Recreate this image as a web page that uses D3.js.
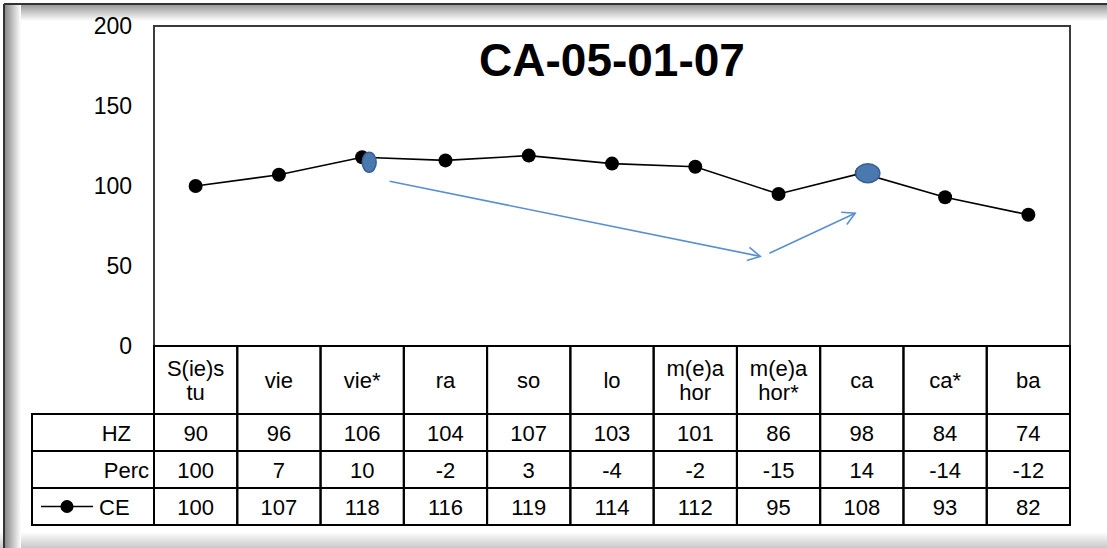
<!DOCTYPE html>
<html>
<head>
<meta charset="utf-8">
<script src="https://cdn.jsdelivr.net/npm/d3@7"></script>
<style>
  html, body { margin: 0; padding: 0; background: #fff; }
  svg { display: block; }
  text { font-family: "Liberation Sans", Arial, sans-serif; fill: #000; }
</style>
</head>
<body>
<script>
// ---- data ----
const categories = ["S(ie)s\ntu", "vie", "vie*", "ra", "so", "lo", "m(e)a\nhor", "m(e)a\nhor*", "ca", "ca*", "ba"];
const hzValues   = [90, 96, 106, 104, 107, 103, 101, 86, 98, 84, 74];
const percValues = [100, 7, 10, -2, 3, -4, -2, -15, 14, -14, -12];
const ceValues   = [100, 107, 118, 116, 119, 114, 112, 95, 108, 93, 82];
const yTicks     = [0, 50, 100, 150, 200];
const seriesNames = ["HZ", "Perc", "CE"];
const titleText  = "CA-05-01-07";
// highlighted points and hand-drawn arrows (category, band offset, value)
const highlights = ["vie*", "ca"];
const arrows = [
  { from: ["vie*", 0.33, 103], to: ["m(e)a\nhor*", -0.22, 56] },
  { from: ["m(e)a\nhor*", -0.11, 58], to: ["ca", -0.08, 83] }
];

// ---- layout ----
const W = 1107, H = 548;
const plot = { left: 154, right: 1070, top: 26, bottom: 346 };
const table = { left: 32, headerBottom: 414, rowH: 37 };

const svg = d3.select("body").append("svg").attr("width", W).attr("height", H);

// background frame with shadow
const defs = svg.append("defs");
const gTop = defs.append("linearGradient").attr("id", "gTop").attr("x1", 0).attr("y1", 0).attr("x2", 0).attr("y2", 1);
gTop.append("stop").attr("offset", 0).attr("stop-color", "#9a9a9a");
gTop.append("stop").attr("offset", 1).attr("stop-color", "#ffffff");
const gLeft = defs.append("linearGradient").attr("id", "gLeft").attr("x1", 0).attr("y1", 0).attr("x2", 1).attr("y2", 0);
gLeft.append("stop").attr("offset", 0).attr("stop-color", "#8a8a8a");
gLeft.append("stop").attr("offset", 1).attr("stop-color", "#ffffff");
const gBot = defs.append("linearGradient").attr("id", "gBot").attr("x1", 0).attr("y1", 0).attr("x2", 0).attr("y2", 1);
gBot.append("stop").attr("offset", 0).attr("stop-color", "#ffffff");
gBot.append("stop").attr("offset", 1).attr("stop-color", "#c8c8c8");

svg.append("rect").attr("x", 0).attr("y", 0).attr("width", W).attr("height", H).attr("fill", "#fff");
svg.append("rect").attr("x", 0).attr("y", 532).attr("width", W).attr("height", 16).attr("fill", "url(#gBot)");
svg.append("rect").attr("x", 5).attr("y", 5).attr("width", W - 5).attr("height", 16).attr("fill", "url(#gTop)");
svg.append("rect").attr("x", 5).attr("y", 5).attr("width", 16).attr("height", H - 5).attr("fill", "url(#gLeft)");
svg.append("line").attr("x1", 4).attr("x2", W).attr("y1", 4).attr("y2", 4).attr("stroke", "#333").attr("stroke-width", 2);
svg.append("line").attr("x1", 4).attr("x2", 4).attr("y1", 4).attr("y2", H).attr("stroke", "#333").attr("stroke-width", 2);

// plot background
svg.append("rect").attr("x", plot.left).attr("y", plot.top)
  .attr("width", plot.right - plot.left).attr("height", plot.bottom - plot.top)
  .attr("fill", "#fff");

// scales
const x = d3.scaleBand().domain(categories).range([plot.left, plot.right]);
const y = d3.scaleLinear().domain([0, 200]).range([plot.bottom, plot.top]);
const cx = c => x(c) + x.bandwidth() / 2;

// y axis
const yAxis = svg.append("g").attr("transform", `translate(${plot.left},0)`)
  .call(d3.axisLeft(y).tickValues(yTicks).tickSize(0).tickPadding(22));
yAxis.select(".domain").remove();
yAxis.selectAll("text").style("font-family", "'Liberation Sans', Arial, sans-serif")
  .style("font-size", "23px").attr("fill", "#000");

// plot border
svg.append("rect").attr("x", plot.left).attr("y", plot.top)
  .attr("width", plot.right - plot.left).attr("height", plot.bottom - plot.top)
  .attr("fill", "none").attr("stroke", "#3a3a3a").attr("stroke-width", 2);

// title
svg.append("text").attr("x", (plot.left + plot.right) / 2).attr("y", 76)
  .attr("text-anchor", "middle").style("font-size", "46px").style("font-weight", "bold")
  .text(titleText);

// line + markers
const line = d3.line().x((d, i) => cx(categories[i])).y(d => y(d));
svg.append("path").datum(ceValues).attr("d", line)
  .attr("fill", "none").attr("stroke", "#000").attr("stroke-width", 1.6);
svg.selectAll("circle.pt").data(ceValues).enter().append("circle")
  .attr("class", "pt").attr("cx", (d, i) => cx(categories[i])).attr("cy", d => y(d))
  .attr("r", 7).attr("fill", "#000");

// highlight ellipses
const hlSize = { "vie*": { dx: 7, dy: 5, rx: 7, ry: 10 }, "ca": { dx: 6, dy: 0, rx: 12, ry: 9.5 } };
highlights.forEach(c => {
  const i = categories.indexOf(c);
  const s = hlSize[c];
  svg.append("ellipse").attr("cx", cx(c) + s.dx).attr("cy", y(ceValues[i]) + s.dy)
    .attr("rx", s.rx).attr("ry", s.ry)
    .attr("fill", "#4a78b0").attr("stroke", "#3a5f90").attr("stroke-width", 1.5);
});

// arrows
const ap = p => [cx(p[0]) + p[1] * x.bandwidth(), y(p[2])];
arrows.forEach(a => {
  const [x1, y1] = ap(a.from), [x2, y2] = ap(a.to);
  const ang = Math.atan2(y2 - y1, x2 - x1);
  const L = 14, spread = 0.5;
  svg.append("line").attr("x1", x1).attr("y1", y1).attr("x2", x2).attr("y2", y2)
    .attr("stroke", "#5a8fd0").attr("stroke-width", 1.6);
  svg.append("path")
    .attr("d", `M${x2 - L * Math.cos(ang - spread)},${y2 - L * Math.sin(ang - spread)} L${x2},${y2} L${x2 - L * Math.cos(ang + spread)},${y2 - L * Math.sin(ang + spread)}`)
    .attr("fill", "none").attr("stroke", "#5a8fd0").attr("stroke-width", 1.6);
});

// ---- data table ----
const tg = svg.append("g");
const lineStyle = sel => sel.attr("stroke", "#000").attr("stroke-width", 2);
// header row cells
categories.forEach(c => {
  tg.append("rect").attr("x", x(c)).attr("y", plot.bottom)
    .attr("width", x.bandwidth()).attr("height", table.headerBottom - plot.bottom)
    .attr("fill", "none").call(lineStyle);
  const lines = c.split("\n");
  const midY = (plot.bottom + table.headerBottom) / 2;
  lines.forEach((ln, k) => {
    tg.append("text").attr("x", cx(c))
      .attr("y", midY + (k - (lines.length - 1) / 2) * 24 + 8)
      .attr("text-anchor", "middle").style("font-size", "22px").text(ln);
  });
});
// data rows
const rows = [hzValues, percValues, ceValues];
const labelPos = [{ x: 131, anchor: "end" }, { x: 149, anchor: "end" }, { x: 99, anchor: "start" }];
rows.forEach((vals, r) => {
  const y0 = table.headerBottom + r * table.rowH;
  tg.append("rect").attr("x", table.left).attr("y", y0)
    .attr("width", plot.left - table.left).attr("height", table.rowH)
    .attr("fill", "none").call(lineStyle);
  tg.append("text").attr("x", labelPos[r].x).attr("y", y0 + table.rowH / 2 + 8)
    .attr("text-anchor", labelPos[r].anchor).style("font-size", "22px").text(seriesNames[r]);
  vals.forEach((v, i) => {
    const c = categories[i];
    tg.append("rect").attr("x", x(c)).attr("y", y0)
      .attr("width", x.bandwidth()).attr("height", table.rowH)
      .attr("fill", "none").call(lineStyle);
    tg.append("text").attr("x", cx(c)).attr("y", y0 + table.rowH / 2 + 8)
      .attr("text-anchor", "middle").style("font-size", "22px").text(v);
  });
});
// legend key in CE row
const ly = table.headerBottom + 2 * table.rowH + table.rowH / 2;
tg.append("line").attr("x1", 41).attr("x2", 93).attr("y1", ly).attr("y2", ly)
  .attr("stroke", "#000").attr("stroke-width", 1.6);
tg.append("circle").attr("cx", 67).attr("cy", ly).attr("r", 6.5).attr("fill", "#000");
</script>
</body>
</html>
